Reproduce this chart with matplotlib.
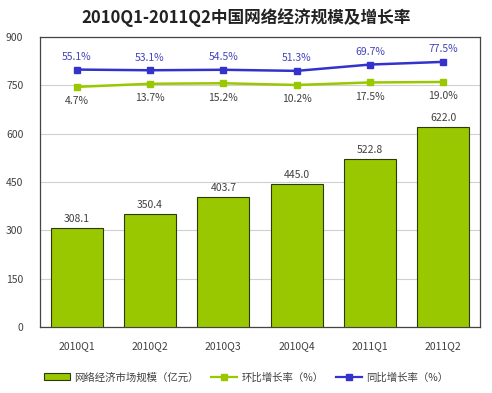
import matplotlib
matplotlib.use("Agg")
import matplotlib.pyplot as plt
from matplotlib.lines import Line2D
from matplotlib.patches import Patch

plt.rcParams['font.family'] = ['Noto Sans CJK SC', 'DejaVu Sans']

quarters = ["2010Q1", "2010Q2", "2010Q3", "2010Q4", "2011Q1", "2011Q2"]
scale = [308.1, 350.4, 403.7, 445.0, 522.8, 622.0]
qoq = [4.7, 13.7, 15.2, 10.2, 17.5, 19.0]
yoy = [55.1, 53.1, 54.5, 51.3, 69.7, 77.5]

green = "#99c800"
blue = "#3333cc"
txt = "#404040"

fig = plt.figure(figsize=(4.92, 3.93), dpi=100)
ax = fig.add_axes([40 / 492, 66 / 393, 440 / 492, 290 / 393])
x = range(len(quarters))

ax.bar(x, scale, width=0.71, color=green, edgecolor="#2a3a10", linewidth=0.8, zorder=3)
for i, v in enumerate(scale):
    ax.text(i, v + 12, f"{v:.1f}", ha="center", va="bottom", fontsize=7.5, color=txt, zorder=5)

ax.set_xlim(-0.5, len(quarters) - 0.5)
ax.set_ylim(0, 900)
ax.set_yticks(range(0, 901, 150))
ax.grid(axis="y", color="#d0d0d0", linewidth=0.8, zorder=0)
ax.set_xticks(list(x))
ax.set_xticklabels(quarters)
ax.tick_params(length=0, labelsize=7.5, colors=txt, pad=10)
ax.tick_params(axis="y", pad=12)
for s in ax.spines.values():
    s.set_color("#444444")
    s.set_linewidth(0.9)

# growth rates on a hidden second scale
ax2 = ax.twinx()
ax2.set_ylim(-695, 150)
ax2.set_yticks([])
for s in ax2.spines.values():
    s.set_visible(False)
ax2.plot(x, yoy, color=blue, marker="s", markersize=5, linewidth=1.8, zorder=4)
ax2.plot(x, qoq, color=green, marker="s", markersize=5, linewidth=1.8, zorder=4)
for i in x:
    ax2.text(i, yoy[i] + 22, f"{yoy[i]:.1f}%", ha="center", va="bottom", fontsize=7.5, color="#4444bb")
    ax2.text(i, qoq[i] - 27, f"{qoq[i]:.1f}%", ha="center", va="top", fontsize=7.5, color=txt)

fig.text(0.5, 0.955, "2010Q1-2011Q2中国网络经济规模及增长率", ha="center", va="center",
         fontsize=12, fontweight="bold", color="#222222")

handles = [
    Patch(facecolor=green, edgecolor="#2a3a10", linewidth=0.8),
    Line2D([0], [0], color=green, marker="s", markersize=4, linewidth=1.6),
    Line2D([0], [0], color=blue, marker="s", markersize=4, linewidth=1.6),
]
labels = ["网络经济市场规模（亿元）", "环比增长率（%）", "同比增长率（%）"]
fig.legend(handles, labels, loc="center", bbox_to_anchor=(0.5, 0.04), ncol=3, frameon=False,
           fontsize=7.5, handlelength=2.5, columnspacing=1.2, handletextpad=0.4,
           labelcolor=txt)

fig.savefig("out.png", dpi=100)
